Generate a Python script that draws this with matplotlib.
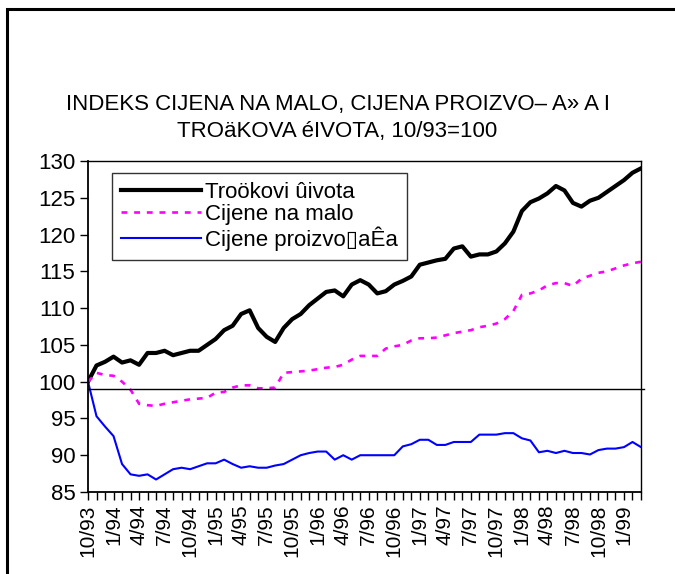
import matplotlib
matplotlib.use("Agg")
import matplotlib.pyplot as plt
from matplotlib.patches import Rectangle

plt.rcParams['font.family'] = ['Liberation Sans', 'DejaVu Sans']

# ================================
# DATA (10/93 = 100, monthly)
# ================================
months = ["10/93", "11/93", "12/93"]
for yr in range(94, 100):
    for m in range(1, 13):
        months.append(f"{m}/{yr}")
months = months[:66]   # 10/93 .. 3/99

troskovi = [
    100.0, 102.2, 102.7, 103.4, 102.6, 102.9, 102.3, 103.9, 103.9, 104.2,
    103.6, 103.9, 104.2, 104.2, 105.0, 105.8, 107.0, 107.6, 109.2, 109.7,
    107.3, 106.1, 105.4, 107.3, 108.5, 109.2, 110.4, 111.3, 112.2, 112.4,
    111.6, 113.2, 113.8, 113.2, 112.0, 112.3, 113.2, 113.7, 114.3, 115.9,
    116.2, 116.5, 116.7, 118.1, 118.4, 117.0, 117.3, 117.3, 117.7, 118.8,
    120.4, 123.2, 124.4, 124.9, 125.6, 126.6, 126.0, 124.3, 123.8, 124.6,
    125.0, 125.8, 126.6, 127.4, 128.4, 129.0,
]
malo = [
    100.0, 101.2, 100.9, 100.8, 100.0, 98.9, 97.0, 96.8, 96.7, 97.0,
    97.2, 97.4, 97.6, 97.7, 97.8, 98.5, 98.6, 99.2, 99.5, 99.5,
    99.1, 99.1, 99.2, 101.2, 101.3, 101.4, 101.5, 101.7, 101.9, 102.0,
    102.3, 103.0, 103.5, 103.5, 103.5, 104.5, 104.8, 105.0, 105.6, 105.9,
    105.9, 106.0, 106.3, 106.6, 106.8, 107.0, 107.4, 107.6, 107.9, 108.5,
    109.6, 111.8, 112.0, 112.4, 113.1, 113.4, 113.4, 113.0, 114.0, 114.4,
    114.8, 115.0, 115.4, 115.8, 116.1, 116.3,
]
proizvodjaci = [
    100.0, 95.3, 93.9, 92.6, 88.8, 87.4, 87.2, 87.4, 86.7, 87.4,
    88.1, 88.3, 88.1, 88.5, 88.9, 88.9, 89.4, 88.8, 88.3, 88.5,
    88.3, 88.3, 88.6, 88.8, 89.4, 90.0, 90.3, 90.5, 90.5, 89.4,
    90.0, 89.4, 90.0, 90.0, 90.0, 90.0, 90.0, 91.2, 91.5, 92.1,
    92.1, 91.4, 91.4, 91.8, 91.8, 91.8, 92.8, 92.8, 92.8, 93.0,
    93.0, 92.3, 92.0, 90.4, 90.6, 90.3, 90.6, 90.3, 90.3, 90.1,
    90.7, 90.9, 90.9, 91.1, 91.8, 91.1,
]

labels = ["Troökovi ûivota", "Cijene na malo", "Cijene proizvo\u25afaÊa"]
title = "INDEKS CIJENA NA MALO, CIJENA PROIZVO– A» A I\nTROäKOVA éIVOTA, 10/93=100"

# ================================
# PLOT
# ================================
fig = plt.figure(figsize=(6.75, 5.74), dpi=100)
ax = fig.add_axes([88 / 675, 1 - 492 / 574, 553 / 675, 331 / 574])

x = list(range(len(months)))
ax.plot(x, troskovi, color="black", lw=3.0, label=labels[0], solid_joinstyle="round")
ax.plot(x, malo, color="#ff00ff", lw=1.9, ls=(0, (2.2, 2.6)), label=labels[1])
ax.plot(x, proizvodjaci, color="#0000ff", lw=1.5, label=labels[2])
ax.axhline(99, color="black", lw=1.0, xmax=1.005, clip_on=False)

ax.set_xlim(0, len(months) - 1)
ax.set_ylim(85, 130)
ax.set_yticks(range(85, 131, 5))
ax.set_xticks(x)
ax.set_xticklabels([m if i % 3 == 0 else "" for i, m in enumerate(months)],
                   rotation=90, fontsize=15)
ax.tick_params(axis="y", labelsize=16, length=6, width=1, pad=3)
ax.tick_params(axis="x", length=6, width=1, pad=3)
for s in ax.spines.values():
    s.set_linewidth(1.0)
ax.spines["left"].set_linewidth(1.3)
ax.spines["bottom"].set_linewidth(1.3)

leg = ax.legend(loc="upper left", bbox_to_anchor=(24 / 553, 1 - 12 / 331),
                fontsize=16, frameon=True, fancybox=False, handlelength=3.6,
                handletextpad=0.2, borderpad=0.4, labelspacing=0.05,
                borderaxespad=0)
leg.get_frame().set_edgecolor("black")
leg.get_frame().set_linewidth(1.0)

fig.text(0.5, 1 - 118 / 574, title, ha="center", va="center", fontsize=16,
         linespacing=1.4)

# outer chart border
fig.patches.append(Rectangle((7 / 675, -0.05), 1.2, 1 - 9 / 574 + 0.05,
                             transform=fig.transFigure, fill=False,
                             edgecolor="black", lw=2.2))

fig.savefig("out.png", dpi=100)
